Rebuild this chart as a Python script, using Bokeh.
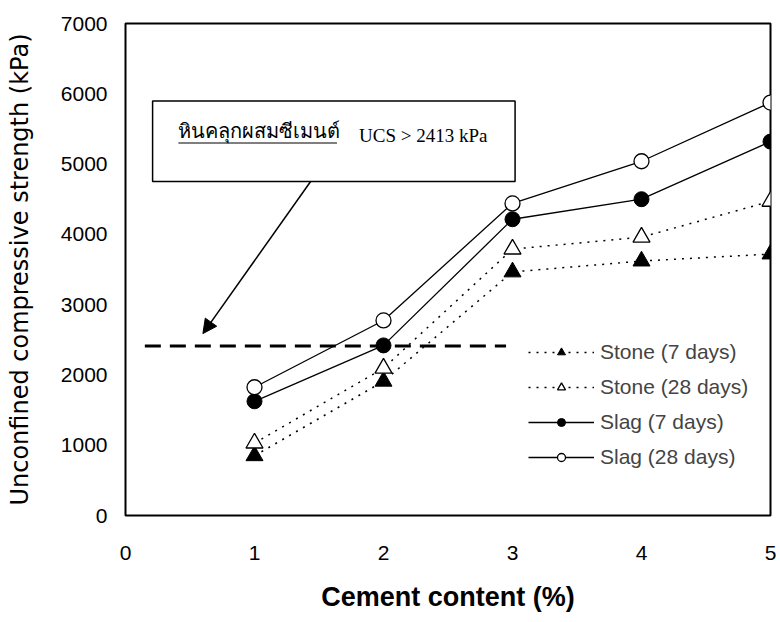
from bokeh.plotting import figure
from bokeh.models import (Legend, LegendItem, BoxAnnotation, Label, Arrow,
                          NormalHead, FixedTicker)
from bokeh.embed import file_html
from bokeh.resources import INLINE

# ---- data ----
cement = [1, 2, 3, 4, 5]
stone_7 = [850, 1910, 3465, 3620, 3720]
stone_28 = [1030, 2095, 3790, 3960, 4470]
slag_7 = [1625, 2420, 4215, 4500, 5320]
slag_28 = [1825, 2775, 4440, 5040, 5875]
criterion = 2413
x_ticks = [0, 1, 2, 3, 4, 5]
y_ticks = [0, 1000, 2000, 3000, 4000, 5000, 6000, 7000]
thai_label = "หินคลุกผสมซีเมนต์"
ucs_label = "UCS > 2413 kPa"

p = figure(width=776, height=614, x_range=(0, 5), y_range=(0, 7000),
           output_backend="svg", toolbar_location=None,
           min_border_left=125, min_border_right=6, min_border_top=23,
           min_border_bottom=96)
p.background_fill_color = "white"
p.border_fill_color = "white"
p.grid.visible = False
p.outline_line_color = "black"
p.outline_line_width = 2
p.outline_line_alpha = 1

for ax in (p.xaxis, p.yaxis):
    ax.axis_line_color = None
    ax.major_tick_line_color = None
    ax.minor_tick_line_color = None
    ax.major_label_text_font = "Liberation Sans"
    ax.major_label_text_font_size = "21px"
    ax.major_label_text_color = "black"

p.xaxis.ticker = FixedTicker(ticks=x_ticks)
p.yaxis.ticker = FixedTicker(ticks=y_ticks)
p.xaxis.major_label_standoff = 24
p.yaxis.major_label_standoff = 12

p.xaxis.axis_label = "Cement content (%)"
p.xaxis.axis_label_text_font = "Liberation Sans"
p.xaxis.axis_label_text_font_style = "bold"
p.xaxis.axis_label_text_font_size = "27px"
p.xaxis.axis_label_standoff = 19
p.xaxis.axis_label_text_color = "black"

p.yaxis.axis_label = "Unconfined compressive strength (kPa)"
p.yaxis.axis_label_text_font = "DejaVu Sans"
p.yaxis.axis_label_text_font_style = "normal"
p.yaxis.axis_label_text_font_size = "24px"
p.yaxis.axis_label_standoff = 24
p.yaxis.axis_label_text_color = "black"

# criterion dashed line
p.line([0.15, 2.95], [criterion, criterion], line_color="black",
       line_width=3, line_dash="16 9")

# series
r1l = p.line(cement, stone_7, line_color="black", line_width=1.5, line_dash="2 6")
r1m = p.scatter(cement, stone_7, marker="triangle", size=17,
                fill_color="black", line_color="black")
r2l = p.line(cement, stone_28, line_color="black", line_width=1.5, line_dash="2 6")
r2m = p.scatter(cement, stone_28, marker="triangle", size=17,
                fill_color="white", line_color="black", line_width=1.3)
r3l = p.line(cement, slag_7, line_color="black", line_width=1.3)
r3m = p.scatter(cement, slag_7, marker="circle", size=15,
                fill_color="black", line_color="black")
r4l = p.line(cement, slag_28, line_color="black", line_width=1.3)
r4m = p.scatter(cement, slag_28, marker="circle", size=15,
                fill_color="white", line_color="black", line_width=1.3)

legend = Legend(items=[
    LegendItem(label="Stone (7 days)", renderers=[r1l, r1m]),
    LegendItem(label="Stone (28 days)", renderers=[r2l, r2m]),
    LegendItem(label="Slag (7 days)", renderers=[r3l, r3m]),
    LegendItem(label="Slag (28 days)", renderers=[r4l, r4m]),
], location=(403, 46), glyph_width=66, glyph_height=20, label_height=20,
    spacing=11, padding=0, margin=0, label_standoff=6,
    label_text_font="Liberation Sans", label_text_font_size="21px",
    border_line_color=None, background_fill_alpha=0)
p.add_layout(legend, "center")

# annotation box
p.add_layout(BoxAnnotation(left=0.21, right=3.02, bottom=4752, top=5896,
                           fill_color="white", fill_alpha=1,
                           line_color="black", line_alpha=1, line_width=1.5,
                           level="underlay"))
p.add_layout(Label(x=0.41, y=5470, text=thai_label,
                   text_font="Liberation Serif", text_font_size="20px",
                   text_color="black", text_baseline="alphabetic"))
p.line([0.41, 1.64], [5300, 5300], line_color="black", line_width=1.2)
p.add_layout(Label(x=1.81, y=5410, text=ucs_label,
                   text_font="Liberation Serif", text_font_size="19px",
                   text_color="black", text_baseline="alphabetic"))

p.add_layout(Arrow(x_start=1.435, y_start=4752, x_end=0.60, y_end=2588,
                   line_color="black", line_width=1.5,
                   end=NormalHead(size=14, fill_color="black",
                                  line_color="black")))

open("out.html", "w").write(file_html(p, INLINE))
